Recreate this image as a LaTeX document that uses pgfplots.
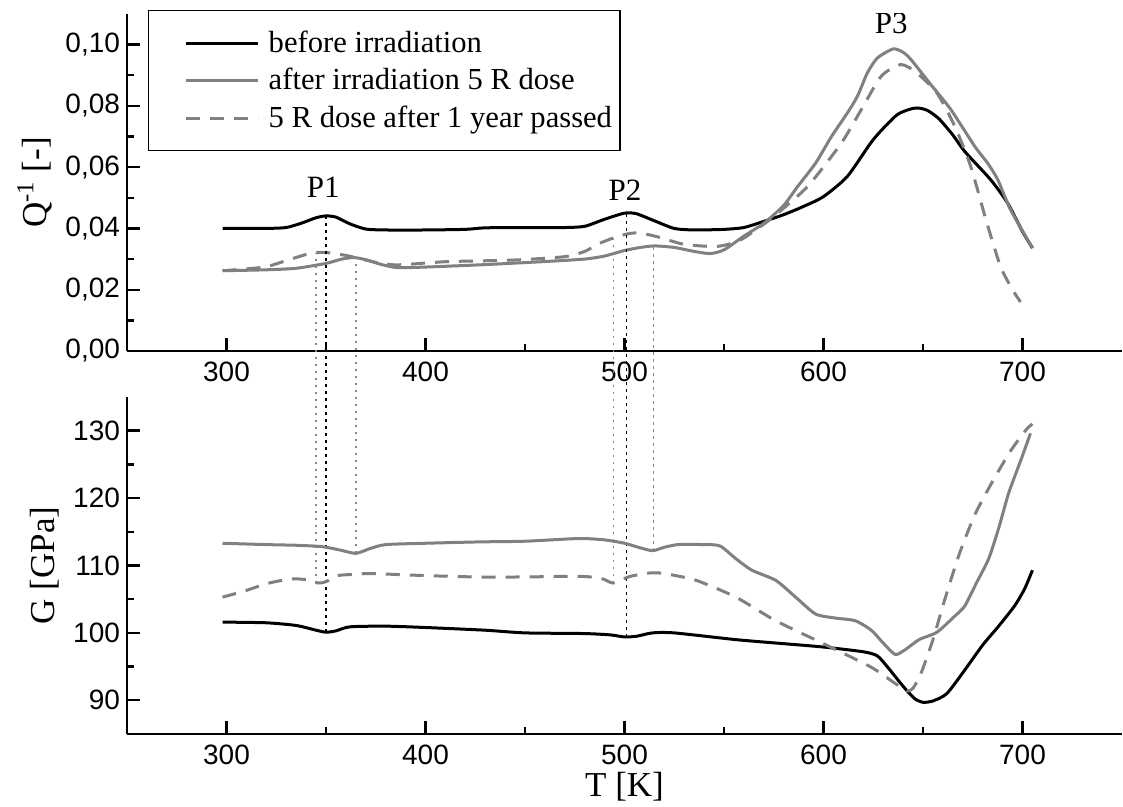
\documentclass[border=0pt]{standalone}
\usepackage{pgfplots}
\pgfplotsset{compat=1.18}
\usepackage{fontspec}
\setmainfont{Liberation Serif}
\newfontfamily\tickfont{Liberation Sans}
\definecolor{cgray}{RGB}{128,128,128}
\definecolor{dgray}{RGB}{135,135,135}

\pgfplotsset{
 common/.style={
  scale only axis, width=497.5pt, height=168.5pt,
  xmin=250, xmax=750,
  axis lines*=left,
  axis line style={line width=1.3pt},
  tick align=inside,
  major tick length=6.5pt, minor tick length=3.5pt,
  tick style={black, line width=1.2pt},
  xtick={300,400,500,600,700}, minor x tick num=1,
  minor y tick num=1,
  ticklabel style={font=\tickfont\fontsize{14}{16}\selectfont},
  xticklabel style={yshift=-2pt},
  /pgf/number format/assume math mode=true,
  label style={font=\fontsize{17.5}{20}\selectfont},
 },
 blk/.style={black, line width=1.5pt, smooth, tension=0.4},
 gry/.style={cgray, line width=1.5pt, smooth, tension=0.4},
 dsh/.style={cgray, line width=1.5pt, smooth, tension=0.4, dash pattern=on 7pt off 5pt},
 bdot/.style={black, line width=0.8pt, dash pattern=on 1.5pt off 2pt},
 gdot/.style={dgray, line width=0.7pt, dash pattern=on 1.2pt off 2.3pt},
}

\begin{document}
\begin{tikzpicture}
\begin{axis}[common, at={(0pt,0pt)}, anchor=south west,
  ymin=0, ymax=0.11,
  ytick={0,0.02,0.04,0.06,0.08,0.1},
  scaled y ticks=false,
  yticklabel style={/pgf/number format/.cd, fixed, fixed zerofill, precision=2, use comma},
  ylabel={Q\textsuperscript{-1} [-]},
  legend style={at={(rel axis cs:0.0211,1.0119)}, anchor=north west, draw=black, line width=0.75pt,
    font=\fontsize{15.3}{18}\selectfont, inner xsep=2pt, inner ysep=8pt, row sep=2.5pt,
    cells={anchor=west}},
  legend image code/.code={\path (-16pt,0pt); \draw[#1] (0pt,0pt) -- (36pt,0pt); \path (38.5pt,0pt);},
]
\addplot[blk] coordinates {
(298,0.0400) (310,0.0400) (320,0.0400) (330,0.0403) (338,0.0418) (345,0.0435) (350,0.0441) (355,0.0437) (362,0.0415) (370,0.0398) (380,0.0395) (400,0.0395) (420,0.0397) (430,0.0402) (450,0.0403) (470,0.0403) (480,0.0407) (490,0.0430) (500,0.0450) (506,0.0448) (515,0.0425) (525,0.0400) (535,0.0395) (550,0.0397) (560,0.0403) (570,0.0423) (580,0.0445) (590,0.0472) (600,0.0504) (612,0.0570) (625,0.0690) (637,0.0771) (646,0.0793) (652,0.0786) (658,0.0758) (665,0.0705) (671,0.0651) (684,0.0559) (692.5,0.0483) (700,0.0390) (705,0.0336)
};
\addlegendentry{before irradiation}
\addplot[gry] coordinates {
(298,0.0262) (320,0.0265) (335,0.0270) (350,0.0286) (358,0.0300) (364,0.0305) (370,0.0298) (378,0.0282) (386,0.0272) (400,0.0274) (430,0.0282) (460,0.0292) (480,0.0300) (490,0.0310) (500,0.0328) (508,0.0338) (515,0.0343) (525,0.0338) (535,0.0325) (543,0.0318) (550,0.0330) (560,0.0375) (570,0.0417) (580,0.0475) (587,0.0537) (596,0.0613) (604,0.0700) (612,0.0777) (617,0.0831) (622,0.0907) (627,0.0956) (635,0.0986) (640,0.0975) (644,0.0951) (654,0.0869) (664,0.0788) (676,0.0668) (682.5,0.0613) (687.6,0.0559) (694,0.0461) (705,0.0336)
};
\addlegendentry{after irradiation 5 R dose}
\addplot[dsh] coordinates {
(298,0.0262) (310,0.0268) (320,0.0275) (330,0.0295) (340,0.0315) (347,0.0322) (352,0.0320) (360,0.0312) (368,0.0300) (376,0.0288) (385,0.0281) (400,0.0287) (412,0.0292) (445,0.0297) (470,0.0308) (480,0.0325) (487,0.0350) (494,0.0368) (502,0.0383) (508,0.0385) (517,0.0372) (530,0.0348) (545,0.0341) (552,0.0348) (559,0.0365) (567,0.0400) (575,0.0439) (592,0.0537) (609,0.0679) (619,0.0788) (629,0.0897) (639,0.0935) (647,0.0907) (657,0.0842) (666,0.0733) (674,0.0602) (682,0.0420) (689,0.0275) (695,0.0200) (699,0.0160)
};
\addlegendentry{5 R dose after 1 year passed}
\node[font=\fontsize{15.5}{18}\selectfont] at (axis cs:348.6,0.0533) {P1};
\node[font=\fontsize{15.5}{18}\selectfont] at (axis cs:500.3,0.0526) {P2};
\node[font=\fontsize{15.5}{18}\selectfont] at (axis cs:634,0.1069) {P3};
\end{axis}

\begin{axis}[common, at={(0pt,-23pt)}, anchor=north west,
  ymin=85, ymax=135,
  ytick={90,100,110,120,130},
  xlabel={T [K]}, ylabel={G [GPa]},
  xlabel style={yshift=3pt},
  clip=false,
]
% dotted guide lines (from the lower curve up to the upper panel curve)
\addplot[gdot] coordinates {(345,107.4) (345,156.42)};
\addplot[gdot] coordinates {(365,111.8) (365,155.69)};
\addplot[gdot] coordinates {(494.5,107.4) (494.5,158.55)};
\addplot[gdot] coordinates {(514.5,112.2) (514.5,157.42)};
\addplot[bdot] coordinates {(350,100.1) (350,161.87)};
\addplot[bdot] coordinates {(501,99.4) (501,162.28)};

\addplot[blk] coordinates {
(298,101.6) (320,101.5) (335,101.1) (345,100.4) (350,100.1) (355,100.3) (362,100.9) (380,101.0) (400,100.8) (430,100.4) (450,100.0) (480,99.9) (493,99.7) (500,99.4) (506,99.5) (514,100.0) (525,100.0) (556,99.0) (580,98.4) (600,97.9) (620,97.2) (627,96.6) (632,95.0) (638,92.8) (642,91.4) (646,90.2) (650,89.7) (655,89.9) (662,91.0) (671,94.5) (680,98.2) (688,101.0) (696,104.0) (701,106.5) (705,109.3)
};
\addplot[gry] coordinates {
(298,113.3) (320,113.1) (335,113.0) (348,112.8) (357,112.3) (365,111.8) (372,112.5) (380,113.1) (400,113.3) (427,113.5) (450,113.6) (477,114.0) (490,113.8) (500,113.3) (507,112.7) (514,112.2) (520,112.7) (527,113.1) (540,113.1) (548,112.9) (556,111.0) (564,109.3) (576,107.8) (586,105.3) (596,102.8) (606,102.2) (616,101.8) (624,100.4) (630,98.5) (636,96.8) (641,97.5) (648,99.0) (657,100.1) (666,102.5) (671,104.0) (677,107.5) (683,111.0) (688,115.5) (693,120.7) (699,125.5) (704,129.6)
};
\addplot[dsh] coordinates {
(298,105.3) (310,106.3) (320,107.3) (332,108.0) (340,107.9) (346,107.4) (350,107.6) (356,108.5) (365,108.7) (373,108.8) (400,108.5) (426,108.3) (450,108.3) (477,108.4) (488,108.1) (494,107.4) (498,107.8) (503,108.4) (513,108.9) (520,108.8) (536,107.8) (556,105.3) (576,101.8) (600,98.4) (624,94.9) (636,92.5) (642,91.4) (645,91.8) (649,94.0) (655,99.0) (661,105.0) (668,111.5) (676,117.5) (685,122.5) (694,127.0) (702,130.2) (705,131.0)
};
\end{axis}
\pgfresetboundingbox
\path[use as bounding box] (-63.5pt,-228pt) rectangle (498pt,175.5pt);
\end{tikzpicture}
\end{document}
